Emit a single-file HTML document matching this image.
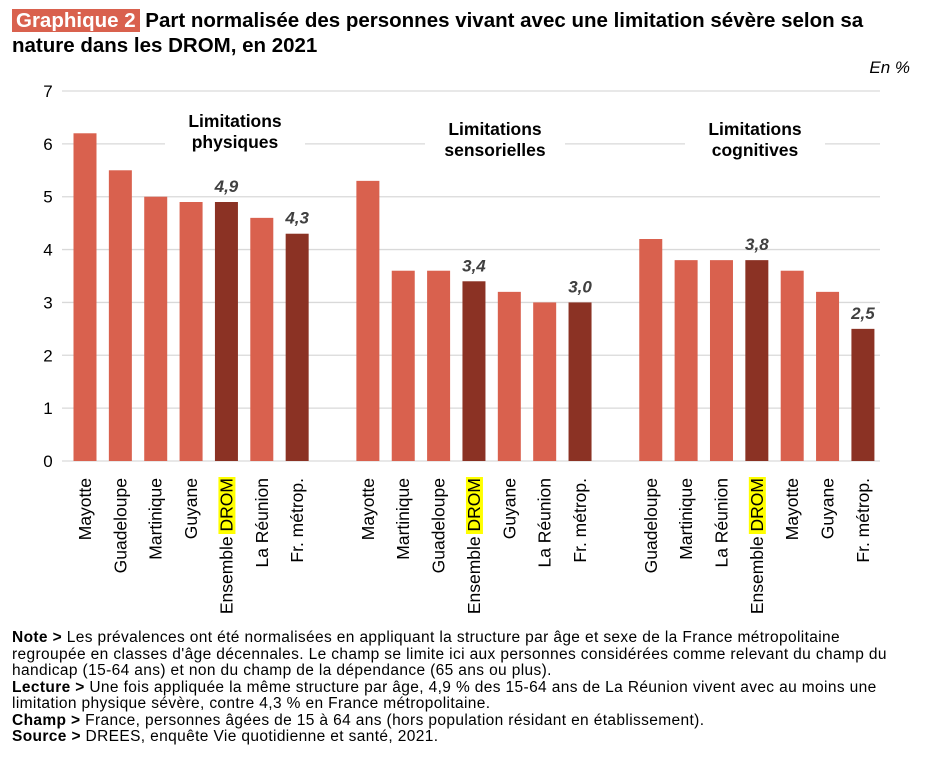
<!DOCTYPE html>
<html><head><meta charset="utf-8"><style>
body{margin:0;background:#fff;width:927px;height:772px;overflow:hidden;font-family:"Liberation Sans",sans-serif}
#title{position:absolute;left:12px;top:8px;font-size:20.5px;font-weight:bold;line-height:25px;color:#000;width:905px}
#title .tag{background:#d9614e;color:#fff;padding:0 4px}
#unit{position:absolute;right:17px;top:58px;font-size:17px;font-style:italic}
#notes{position:absolute;left:12px;top:630px;font-size:15.5px;letter-spacing:0.37px;line-height:16.5px;color:#000;width:900px}
</style></head><body>
<div id="title"><span class="tag">Graphique 2</span> Part normalisée des personnes vivant avec une limitation sévère selon sa nature dans les DROM, en 2021</div>
<div id="unit">En %</div>
<svg id="chart" width="927" height="630" style="position:absolute;left:0;top:0"></svg>
<div id="notes">
<b>Note &gt;</b> Les prévalences ont été normalisées en appliquant la structure par âge et sexe de la France métropolitaine regroupée en classes d'âge décennales. Le champ se limite ici aux personnes considérées comme relevant du champ du handicap (15-64 ans) et non du champ de la dépendance (65 ans ou plus).<br>
<b>Lecture &gt;</b> Une fois appliquée la même structure par âge, 4,9 % des 15-64 ans de La Réunion vivent avec au moins une limitation physique sévère, contre 4,3 % en France métropolitaine.<br>
<b>Champ &gt;</b> France, personnes âgées de 15 à 64 ans (hors population résidant en établissement).<br>
<b>Source &gt;</b> DREES, enquête Vie quotidienne et santé, 2021.
</div>
<script>
const groups = ["Limitations physiques","Limitations sensorielles","Limitations cognitives"];
const cat1 = ["Mayotte","Guadeloupe","Martinique","Guyane","Ensemble DROM","La Réunion","Fr. métrop."];
const val1 = [6.2,5.5,5.0,4.9,4.9,4.6,4.3];
const cat2 = ["Mayotte","Martinique","Guadeloupe","Ensemble DROM","Guyane","La Réunion","Fr. métrop."];
const val2 = [5.3,3.6,3.6,3.4,3.2,3.0,3.0];
const cat3 = ["Guadeloupe","Martinique","La Réunion","Ensemble DROM","Mayotte","Guyane","Fr. métrop."];
const val3 = [4.2,3.8,3.8,3.8,3.6,3.2,2.5];
const yTicks = [0,1,2,3,4,5,6,7];

const svg=document.getElementById('chart'),NS='http://www.w3.org/2000/svg';
const y0=461,y7=91,yMax=7;
const y=v=>y0-(v/yMax)*(y0-y7);
const slot=35.36,x0=85;
const x=(g,i)=>x0+(g*8+i)*slot;
function el(t,a,txt){const e=document.createElementNS(NS,t);for(const k in a)e.setAttribute(k,a[k]);if(txt!==undefined)e.textContent=txt;svg.appendChild(e);return e;}
yTicks.forEach(t=>{
 const l=el('line',{x1:62,x2:880,y1:y(t),y2:y(t),stroke:'#d9d9d9','stroke-width':1.3});
 
 
 const tx=el('text',{x:48,y:y(t)+6,'text-anchor':'middle','font-size':17},String(t));
 
 
});
const tpos=[[235,127],[495,135],[755,135]];
const tline=[["Limitations","physiques"],["Limitations","sensorielles"],["Limitations","cognitives"]];
[cat1,cat2,cat3].forEach((cats,g)=>{
 const vals=[val1,val2,val3][g];
 const [cx,ty]=tpos[g];
 el('rect',{x:cx-70,y:ty-20,width:140,height:50,fill:'#fff'});
 tline[g].forEach((s,k)=>{
  const t=el('text',{x:cx,y:ty+k*21,'text-anchor':'middle','font-size':17.5,'font-weight':'bold'},s);
  
  
 });
 cats.forEach((c,i)=>{
  const cx2=x(g,i),v=vals[i],drom=c==="Ensemble DROM",fr=c==="Fr. métrop.";
  const r=el('rect',{x:cx2-11.5,y:y(v),width:23,height:y0-y(v),fill:(drom||fr)?'#8b3224':'#d9614e'});
  
  
  if(drom||fr){
   const vl=el('text',{x:cx2,y:y(v)-10,'text-anchor':'middle','font-size':17,'font-weight':'bold','font-style':'italic',fill:'#404040'},v.toFixed(1).replace('.',','));
   
   
  }
  const g2=el('g',{transform:`translate(${cx2+6},470) rotate(-90)`});
  const t=document.createElementNS(NS,'text');
  t.setAttribute('text-anchor','end');t.setAttribute('font-size',17.5);
  if(drom){
   const hb=document.createElementNS(NS,'rect');
   hb.setAttribute('x',-64);hb.setAttribute('y',-14);hb.setAttribute('width',57);hb.setAttribute('height',17);hb.setAttribute('fill','#ffff00');
   g2.appendChild(hb);
   t.textContent='Ensemble DROM';
  } else t.textContent=c;
  t.setAttribute('x',-8);
  g2.appendChild(t);
  
  
 });
});
</script>
</body></html>
